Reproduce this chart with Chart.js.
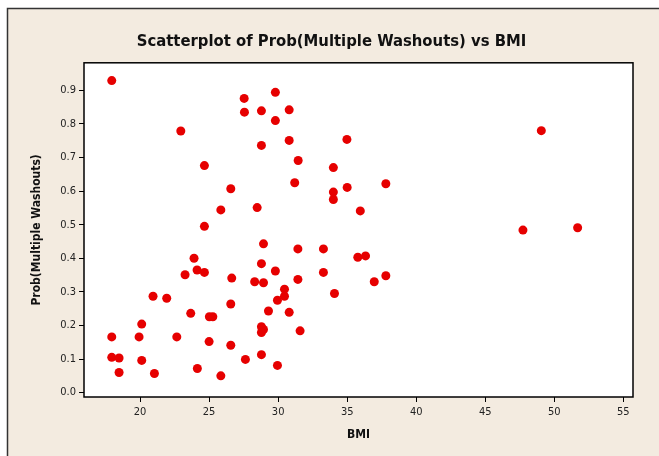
<!DOCTYPE html>
<html>
<head>
<meta charset="utf-8">
<script src="https://cdn.jsdelivr.net/npm/chart.js@4.4.1/dist/chart.umd.min.js"></script>
<style>
  html, body { margin: 0; padding: 0; background: #ffffff; }
  #wrap { width: 659px; height: 456px; position: relative; }
</style>
</head>
<body>
<div id="wrap"><canvas id="scatterChart" width="659" height="456"></canvas></div>
<script>
// BMI values (x) and Prob(Multiple Washouts) values (y)
const bmi = [
  17.95, 22.95, 24.66, 27.54, 27.56, 28.79, 29.8, 30.8, 29.8, 28.79,
  30.8, 31.45, 34.98, 34.0, 31.2, 26.57, 34.0, 34.0, 35.0, 37.8,
  25.85, 28.48, 35.95, 24.66, 49.06, 47.73, 51.69, 17.95, 17.95, 18.48,
  18.48, 20.94, 21.93, 19.93, 20.12, 20.12, 21.04, 22.66, 23.26, 23.91,
  24.13, 24.66, 23.67, 25.02, 25.27, 25.0, 24.15, 25.85, 26.64, 26.57,
  26.57, 27.63, 28.3, 28.94, 31.43, 33.28, 28.79, 29.8, 31.43, 33.28,
  35.77, 36.33, 36.96, 37.8, 34.08, 28.94, 30.46, 30.46, 29.95, 29.3,
  30.8, 28.79, 28.94, 28.79, 31.59, 28.79, 29.95
];
const probWashouts = [
  0.929, 0.779, 0.676, 0.876, 0.835, 0.839, 0.894, 0.842, 0.81, 0.736,
  0.751, 0.691, 0.754, 0.670, 0.625, 0.607, 0.597, 0.575, 0.611, 0.622,
  0.544, 0.551, 0.541, 0.495, 0.780, 0.484, 0.491, 0.166, 0.105, 0.103,
  0.060, 0.287, 0.281, 0.166, 0.204, 0.096, 0.057, 0.166, 0.351, 0.400,
  0.365, 0.358, 0.236, 0.226, 0.226, 0.152, 0.072, 0.050, 0.341, 0.264,
  0.141, 0.099, 0.330, 0.443, 0.428, 0.428, 0.384, 0.362, 0.337, 0.358,
  0.403, 0.407, 0.330, 0.348, 0.295, 0.327, 0.308, 0.287, 0.275, 0.243,
  0.239, 0.196, 0.188, 0.179, 0.184, 0.113, 0.081
];
const xTicks = [20, 25, 30, 35, 40, 45, 50, 55];
const yTicks = [0.0, 0.1, 0.2, 0.3, 0.4, 0.5, 0.6, 0.7, 0.8, 0.9];

const points = bmi.map((b, i) => ({ x: b, y: probWashouts[i] }));

// beige panel with outer border, white plot area with black frame
const framePlugin = {
    id: 'frame',
    beforeDraw: (chart) => {
        const { ctx, chartArea } = chart;
        ctx.save();
        ctx.fillStyle = '#ffffff';
        ctx.fillRect(0, 0, chart.width, chart.height);
        ctx.fillStyle = '#f3ebe0';
        ctx.fillRect(7, 8, chart.width - 7, chart.height - 8);
        ctx.strokeStyle = '#333333';
        ctx.lineWidth = 1.5;
        ctx.beginPath();
        ctx.moveTo(7.5, chart.height);
        ctx.lineTo(7.5, 8.5);
        ctx.lineTo(chart.width, 8.5);
        ctx.stroke();
        ctx.fillStyle = '#ffffff';
        ctx.fillRect(chartArea.left, chartArea.top, chartArea.right - chartArea.left, chartArea.bottom - chartArea.top);
        ctx.restore();
    },
    afterDraw: (chart) => {
        const { ctx, chartArea } = chart;
        ctx.save();
        ctx.strokeStyle = '#000000';
        ctx.lineWidth = 1.5;
        ctx.strokeRect(chartArea.left, chartArea.top, chartArea.right - chartArea.left, chartArea.bottom - chartArea.top);
        ctx.restore();
    }
};

const ctx = document.getElementById('scatterChart');
new Chart(ctx, {
    type: 'scatter',
    data: {
        datasets: [{
            label: 'Prob(Multiple Washouts)',
            data: points,
            backgroundColor: '#e60000',
            borderColor: '#e60000',
            pointRadius: 4.5,
            pointHoverRadius: 4.5,
            borderWidth: 0
        }]
    },
    options: {
        responsive: false,
        animation: false,
        layout: {
            padding: { left: 30, right: 26, top: 0, bottom: 0 }
        },
        scales: {
            x: {
                type: 'linear',
                min: 15.94,
                max: 55.7,
                afterBuildTicks: (scale) => { scale.ticks = xTicks.map(v => ({ value: v })); },
                afterFit: (scale) => { scale.height = 59; },
                grid: { display: true, drawOnChartArea: false, drawTicks: true, tickLength: 5, color: '#000000' },
                border: { display: false },
                ticks: {
                    color: '#222222',
                    padding: 4,
                    maxRotation: 0,
                    font: { family: 'DejaVu Sans Condensed', size: 11 },
                    callback: (v) => String(v)
                },
                title: {
                    display: true,
                    text: 'BMI',
                    color: '#111111',
                    font: { family: 'DejaVu Sans Condensed', size: 12, weight: 'bold' },
                    padding: { top: 0, bottom: 14 }
                }
            },
            y: {
                type: 'linear',
                min: -0.013,
                max: 0.982,
                afterBuildTicks: (scale) => { scale.ticks = yTicks.map(v => ({ value: v })); },
                afterFit: (scale) => { scale.width = 54; },
                grid: { display: true, drawOnChartArea: false, drawTicks: true, tickLength: 5, color: '#000000' },
                border: { display: false },
                ticks: {
                    color: '#222222',
                    padding: 3,
                    font: { family: 'DejaVu Sans Condensed', size: 11 },
                    callback: (v) => v.toFixed(1)
                },
                title: {
                    display: true,
                    text: 'Prob(Multiple Washouts)',
                    color: '#111111',
                    font: { family: 'DejaVu Sans Condensed', size: 12, weight: 'bold' },
                    padding: { top: 0, bottom: 0 }
                }
            }
        },
        plugins: {
            legend: { display: false },
            tooltip: { enabled: false },
            title: {
                display: true,
                text: 'Scatterplot of Prob(Multiple Washouts) vs BMI',
                color: '#111111',
                font: { family: 'DejaVu Sans Condensed', size: 16.5, weight: 'bold' },
                padding: { top: 32, bottom: 11 }
            }
        }
    },
    plugins: [framePlugin]
});
</script>
</body>
</html>
